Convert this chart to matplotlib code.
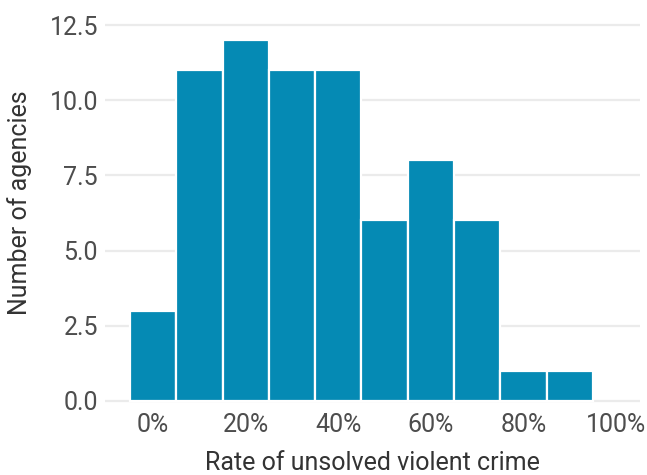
import matplotlib
matplotlib.use('Agg')
import matplotlib.pyplot as plt
from matplotlib.ticker import FuncFormatter

plt.rcParams['font.family'] = ['Roboto', 'DejaVu Sans']

# histogram bins (bin centres, as share of crimes unsolved) and agency counts
bin_centers = [0.0, 0.1, 0.2, 0.3, 0.4, 0.5, 0.6, 0.7, 0.8, 0.9]
agency_counts = [3, 11, 12, 11, 11, 6, 8, 6, 1, 1]
bin_width = 0.1

x_ticks = [0.0, 0.2, 0.4, 0.6, 0.8, 1.0]
y_ticks = [0.0, 2.5, 5.0, 7.5, 10.0, 12.5]

bar_color = '#058ab4'
text_color = '#4d4d4d'
grid_color = '#ebebeb'

fig = plt.figure(figsize=(6.47, 4.75), dpi=100)
ax = fig.add_axes([105 / 647, 1 - 419 / 475, 535 / 647, 397 / 475])

ax.bar(bin_centers, agency_counts, width=bin_width, color=bar_color,
       edgecolor='white', linewidth=1.6, zorder=2)

ax.set_xlim(-0.104, 1.052)
ax.set_ylim(-0.6, 12.6)
ax.set_xticks(x_ticks)
ax.set_yticks(y_ticks)
ax.xaxis.set_major_formatter(FuncFormatter(lambda v, p: f'{v * 100:.0f}%'))
ax.yaxis.set_major_formatter(FuncFormatter(lambda v, p: f'{v:.1f}'))

ax.grid(axis='y', color=grid_color, linewidth=1.6, zorder=0)
ax.grid(axis='x', visible=False)
for s in ax.spines.values():
    s.set_visible(False)
ax.tick_params(length=0, labelsize=18, colors=text_color, pad=5)
ax.tick_params(axis='x', pad=-4)

ax.set_xlabel('Rate of unsolved violent crime', fontsize=18, color='#333333', labelpad=10)
ax.set_ylabel('Number of agencies', fontsize=18, color='#333333')
# label sits a little above the panel centre in the reference
ax.yaxis.set_label_coords(-0.137, 0.544)

fig.savefig('out.png', dpi=100, facecolor='white')
